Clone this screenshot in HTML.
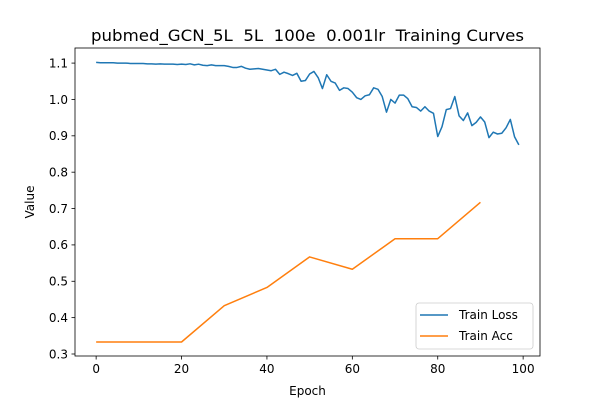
<!DOCTYPE html>
<html><head><meta charset="utf-8"><style>
body{margin:0;background:#fff;}
svg text{font-family:"DejaVu Sans","Liberation Sans",sans-serif;white-space:pre;}
</style></head><body>
<svg id="chart" width="600" height="400" xmlns="http://www.w3.org/2000/svg">
<rect width="600" height="400" fill="#fff"/>
<text x="307.5" y="41" font-size="16" text-anchor="middle" textLength="433" lengthAdjust="spacingAndGlyphs" xml:space="preserve">pubmed_GCN_5L  5L  100e  0.001lr  Training Curves</text>
<g id="plot"></g>
<rect x="75" y="48" width="465" height="308" fill="none" stroke="#000" stroke-width="0.8"/>
<text x="307.5" y="395" font-size="12" text-anchor="middle">Epoch</text>
<text transform="translate(34,202) rotate(-90)" font-size="12" text-anchor="middle">Value</text>
<g>
<rect x="416" y="303" width="117" height="46" rx="3" fill="#fff" stroke="#ccc" stroke-width="0.8"/>
<line x1="420" y1="315" x2="448" y2="315" stroke="#1f77b4" stroke-width="1.5"/>
<text x="459" y="319" font-size="12">Train Loss</text>
<line x1="420" y1="336" x2="448" y2="336" stroke="#ff7f0e" stroke-width="1.5"/>
<text x="459" y="340" font-size="12">Train Acc</text>
</g>
</svg>
<script>
const lossValues=[1.102,1.101,1.101,1.101,1.101,1.1,1.1,1.1,1.099,1.099,1.099,1.099,1.098,1.098,1.097,1.098,1.097,1.097,1.097,1.096,1.097,1.096,1.098,1.095,1.097,1.094,1.093,1.095,1.093,1.093,1.093,1.091,1.088,1.088,1.091,1.086,1.083,1.084,1.085,1.083,1.081,1.079,1.083,1.069,1.075,1.071,1.066,1.072,1.05,1.052,1.07,1.077,1.06,1.03,1.068,1.05,1.045,1.025,1.032,1.03,1.02,1.005,1.0,1.01,1.013,1.032,1.028,1.008,0.965,1.0,0.99,1.012,1.012,1.002,0.98,0.978,0.968,0.98,0.968,0.962,0.898,0.925,0.972,0.975,1.008,0.955,0.942,0.963,0.928,0.937,0.952,0.938,0.895,0.91,0.905,0.907,0.922,0.945,0.897,0.875];
const accEpochs=[0,10,20,30,40,50,60,70,80,90];
const accValues=[0.333,0.333,0.333,0.433,0.483,0.567,0.533,0.617,0.617,0.717];
const xTicks=[0,20,40,60,80,100];
const yTicks=[0.3,0.4,0.5,0.6,0.7,0.8,0.9,1.0,1.1];
const NS="http://www.w3.org/2000/svg";
const xMin=-4.95,xMax=103.95,yMin=0.2945,yMax=1.1415;
const X=v=>75+(v-xMin)/(xMax-xMin)*465;
const Y=v=>356-(v-yMin)/(yMax-yMin)*308;
const g=document.getElementById('plot');
function mk(t,a){const e=document.createElementNS(NS,t);for(const k in a)e.setAttribute(k,a[k]);g.appendChild(e);return e;}
xTicks.forEach(t=>{
 const l=mk('line',{x1:X(t),x2:X(t),y1:356,y2:359.5,stroke:'#000','stroke-width':0.8});
 
 
 const tx=mk('text',{x:X(t),y:373,'font-size':12,'text-anchor':'middle'});tx.textContent=t;
 
 
});
yTicks.forEach(t=>{
 const l=mk('line',{x1:71.5,x2:75,y1:Y(t),y2:Y(t),stroke:'#000','stroke-width':0.8});
 
 
 const tx=mk('text',{x:68,y:Y(t)+4.3,'font-size':12,'text-anchor':'end'});tx.textContent=t.toFixed(1);
 
 
});
const lp=mk('polyline',{points:lossValues.map((v,i)=>X(i)+','+Y(v)).join(' '),fill:'none',stroke:'#1f77b4','stroke-width':1.5,'stroke-linejoin':'round'});


const ap=mk('polyline',{points:accValues.map((v,i)=>X(accEpochs[i])+','+Y(v)).join(' '),fill:'none',stroke:'#ff7f0e','stroke-width':1.5,'stroke-linejoin':'round'});


</script>
</body></html>
